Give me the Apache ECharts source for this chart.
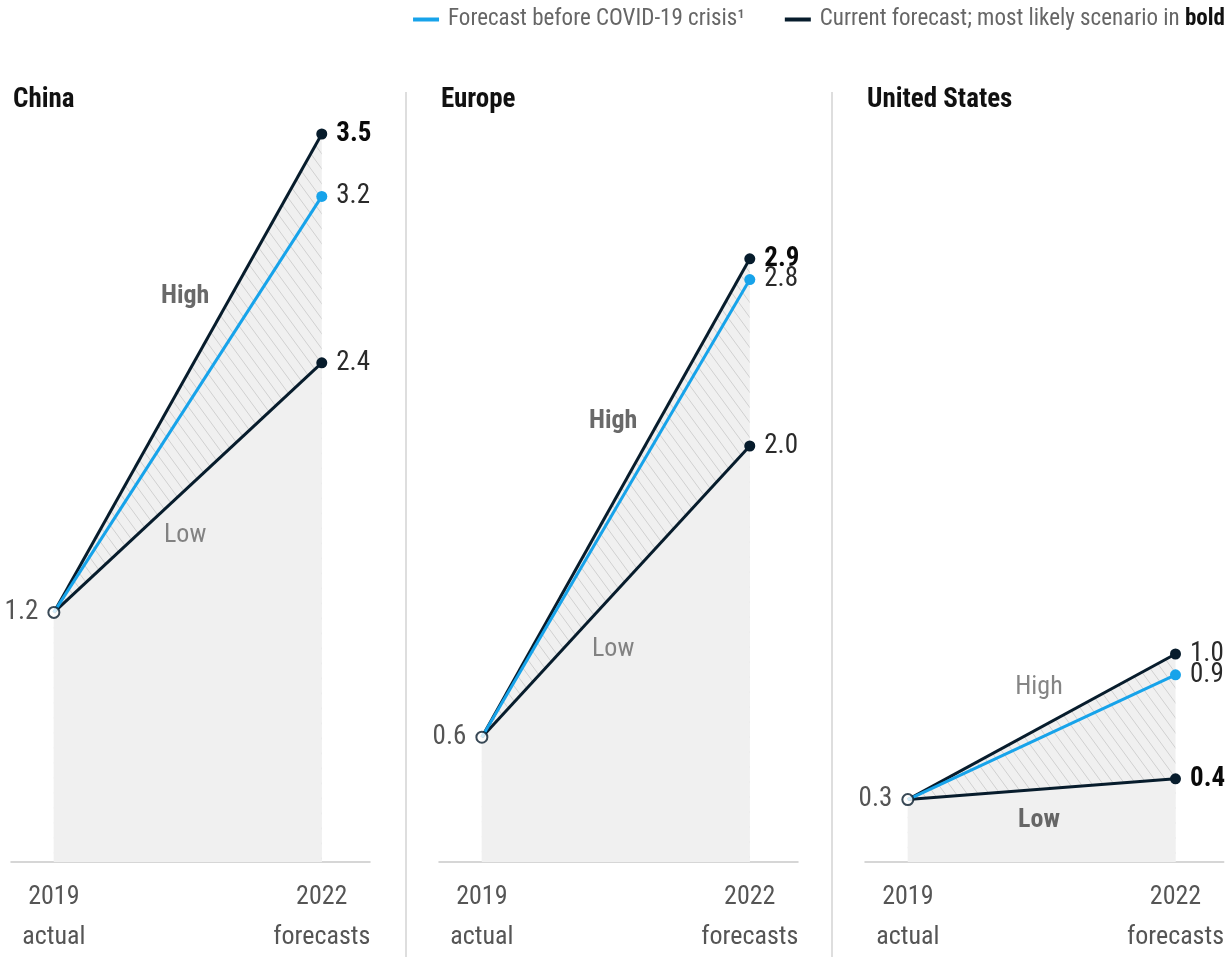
<!DOCTYPE html>
<html>
<head>
<meta charset="utf-8">
<script src="https://cdn.jsdelivr.net/npm/echarts@6/dist/echarts.min.js"></script>
<style>
html,body{margin:0;padding:0;background:#fff;}
#chart{width:1227px;height:957px;}
</style>
</head>
<body>
<div id="chart"></div>
<script>
// ---- data ----
const regions = ['China', 'Europe', 'United States'];
const xTickLabels = ['2019\nactual', '2022\nforecasts'];
const actual2019 = [1.2, 0.6, 0.3];
const preCovid2022 = [3.2, 2.8, 0.9];
const high2022 = [3.5, 2.9, 1.0];
const low2022 = [2.4, 2.0, 0.4];
const likelyScenario = ['high', 'high', 'low'];
const legendNames = ['Forecast before COVID-19 crisis¹', 'Current forecast; most likely scenario in bold'];

// ---- style ----
const FONT = "'Liberation Sans Narrow', 'Arial Narrow', 'Roboto Condensed', 'Liberation Sans', sans-serif";
const DARK = '#071c2c';
const BLUE = '#17a3ea';
const FILL = '#f0f0f0';

function makeHatch() {
  const w = 11, h = 15;
  const c = document.createElement('canvas');
  c.width = w; c.height = h;
  const g = c.getContext('2d');
  g.fillStyle = FILL; g.fillRect(0, 0, w, h);
  g.strokeStyle = '#d0d0d0'; g.lineWidth = 1;
  g.beginPath();
  for (let k = -1; k <= 1; k++) {
    g.moveTo(k * w - w * 0.2, -h * 0.2);
    g.lineTo(k * w + w * 1.2, h * 1.2);
  }
  g.stroke();
  return c;
}
const hatch = makeHatch();

const chart = echarts.init(document.getElementById('chart'));

const gridLefts = [11, 439, 865];
const annoHigh = [[0.49, 2.72], [0.49, 2.12], [0.49, 0.84]];
const annoLow = [[0.49, 1.57], [0.49, 1.02], [0.49, 0.20]];

const grids = [], xAxes = [], yAxes = [], titles = [], series = [];

regions.forEach((r, i) => {
  grids.push({ left: gridLefts[i], width: 359, top: 134, height: 736 });
  xAxes.push({
    type: 'value', gridIndex: i, min: -0.16, max: 1.18,
    axisLine: { show: true, lineStyle: { color: '#c9c9c9', width: 1.5 } },
    axisTick: { show: false }, splitLine: { show: false },
    axisLabel: {
      customValues: [0, 1],
      formatter: v => xTickLabels[Math.round(v)],
      color: '#555', fontFamily: FONT, fontSize: 26, lineHeight: 40, margin: 15
    }
  });
  yAxes.push({ type: 'value', gridIndex: i, min: 0, max: 3.5, show: false });
  titles.push({
    text: r, left: gridLefts[i] + 2, top: 87, padding: 0,
    textStyle: { fontFamily: FONT, fontSize: 27, fontWeight: 'bold', color: '#111' }
  });

  const a = actual2019[i];
  const hiBold = likelyScenario[i] === 'high';
  const loBold = likelyScenario[i] === 'low';

  // hatched area under high line
  series.push({
    type: 'line', xAxisIndex: i, yAxisIndex: i, silent: true, z: 1,
    data: [[0, a], [1, high2022[i]]], symbol: 'none',
    lineStyle: { width: 0 },
    areaStyle: { color: { image: hatch, repeat: 'repeat' }, opacity: 1 }
  });
  // solid area under low line
  series.push({
    type: 'line', xAxisIndex: i, yAxisIndex: i, silent: true, z: 2,
    data: [[0, a], [1, low2022[i]]], symbol: 'none',
    lineStyle: { width: 0 },
    areaStyle: { color: FILL, opacity: 1 }
  });

  const endLabel = (bold) => ({
    show: true, position: 'right', distance: 9,
    formatter: p => p.value[1].toFixed(1),
    fontFamily: FONT, fontSize: 27,
    fontWeight: bold ? 'bold' : 'normal',
    color: bold ? '#0a0a0a' : '#2a2a2a'
  });

  const lineSeries = (name, val, color, bold, z) => ({
    type: 'line', name, xAxisIndex: i, yAxisIndex: i, silent: true, z,
    data: [
      { value: [0, a], symbol: 'none', label: { show: false } },
      { value: [1, val], label: endLabel(bold) }
    ],
    symbol: 'circle', symbolSize: 11, showSymbol: true,
    itemStyle: { color },
    lineStyle: { color, width: 3 },
    label: { show: false }
  });

  series.push(lineSeries(legendNames[1], low2022[i], DARK, loBold, 4));
  series.push(lineSeries(legendNames[1], high2022[i], DARK, hiBold, 5));
  series.push(lineSeries(legendNames[0], preCovid2022[i], BLUE, false, 6));

  // starting point (hollow)
  series.push({
    type: 'scatter', xAxisIndex: i, yAxisIndex: i, silent: true, z: 8,
    data: [[0, a]], symbol: 'circle', symbolSize: 11,
    itemStyle: { color: '#fff', borderColor: DARK, borderWidth: 2 },
    label: {
      show: true, position: 'left', distance: 9,
      formatter: p => p.value[1].toFixed(1),
      fontFamily: FONT, fontSize: 27, color: '#2a2a2a'
    }
  });

  // High / Low annotations
  series.push({
    type: 'scatter', xAxisIndex: i, yAxisIndex: i, silent: true, z: 9,
    symbolSize: 0,
    data: [
      { value: annoHigh[i], name: 'High', label: { fontWeight: hiBold ? 'bold' : 'normal', color: hiBold ? '#444' : '#666' } },
      { value: annoLow[i], name: 'Low', label: { fontWeight: loBold ? 'bold' : 'normal', color: loBold ? '#444' : '#666' } }
    ],
    label: {
      show: true, position: 'inside', formatter: p => p.name,
      fontFamily: FONT, fontSize: 26
    }
  });
});

const option = {
  animation: false,
  backgroundColor: '#fff',
  title: titles,
  grid: grids,
  xAxis: xAxes,
  yAxis: yAxes,
  legend: {
    data: legendNames,
    right: 2, top: 8, padding: 0,
    icon: 'rect', itemWidth: 26, itemHeight: 4, itemGap: 40,
    selectedMode: false,
    formatter: n => n === legendNames[1] ? 'Current forecast; most likely scenario in {b|bold}' : n,
    textStyle: {
      fontFamily: FONT, fontSize: 23, color: '#666', padding: [0, 0, 0, 4],
      rich: { b: { fontFamily: FONT, fontSize: 23, fontWeight: 'bold', color: '#111' } }
    }
  },
  graphic: [
    { type: 'line', shape: { x1: 406, y1: 92, x2: 406, y2: 957 }, style: { stroke: '#dedede', lineWidth: 2 }, silent: true },
    { type: 'line', shape: { x1: 832, y1: 92, x2: 832, y2: 957 }, style: { stroke: '#dedede', lineWidth: 2 }, silent: true }
  ],
  series
};
chart.setOption(option);
</script>
</body>
</html>
